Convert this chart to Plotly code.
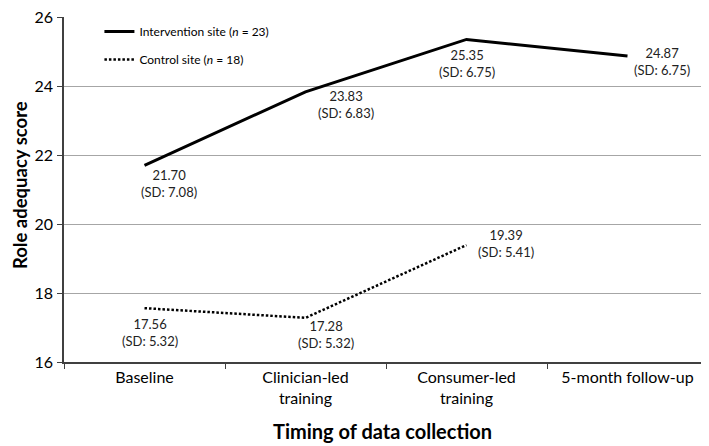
import plotly.graph_objects as go

categories = ["Baseline", "Clinician-led<br>training", "Consumer-led<br>training", "5-month follow-up"]
intervention_mean = [21.70, 23.83, 25.35, 24.87]
intervention_sd = [7.08, 6.83, 6.75, 6.75]
control_mean = [17.56, 17.28, 19.39]
control_sd = [5.32, 5.32, 5.41]
y_ticks = [16, 18, 20, 22, 24, 26]

# label offsets (pixels) relative to each point: (dx, dy)
int_offsets = [(24, -18), (40, -13), (0, -24), (34, -6)]
ctl_offsets = [(5, -24), (20, -17), (39, 2)]

FONT = "Lato"

fig = go.Figure()
fig.add_trace(go.Scatter(
    x=categories, y=intervention_mean, mode="lines",
    line=dict(color="black", width=3),
    name="Intervention site (<i>n</i> = 23)", legendgroup="a",
))
fig.add_trace(go.Scatter(
    x=categories[:len(control_mean)], y=control_mean, mode="lines",
    line=dict(color="black", width=2.5, dash="2.5px,2px"),
    name="Control site (<i>n</i> = 18)", legendgroup="b",
))

for cat, m, sd, (dx, dy) in zip(categories, intervention_mean, intervention_sd, int_offsets):
    fig.add_annotation(x=cat, y=m, xref="x", yref="y", text=f"{m:.2f}<br>(SD: {sd:.2f})",
                       showarrow=False, xshift=dx, yshift=dy,
                       font=dict(family=FONT, size=13, color="#222"), align="center")
for cat, m, sd, (dx, dy) in zip(categories, control_mean, control_sd, ctl_offsets):
    fig.add_annotation(x=cat, y=m, xref="x", yref="y", text=f"{m:.2f}<br>(SD: {sd:.2f})",
                       showarrow=False, xshift=dx, yshift=dy,
                       font=dict(family=FONT, size=13, color="#222"), align="center")

# axis titles
fig.add_annotation(x=0.4946, y=-0.2, xref="paper", yref="paper", xanchor="center", yanchor="middle",
                   text="<b>Timing of data collection</b>", showarrow=False,
                   font=dict(family=FONT, size=20, color="black"))
fig.add_annotation(x=-0.0683, y=0.513, xref="paper", yref="paper", xanchor="center", yanchor="middle",
                   text="<b>Role adequacy score</b>", showarrow=False, textangle=-90,
                   font=dict(family=FONT, size=18.5, color="black"))

fig.update_layout(
    width=701, height=438,
    margin=dict(l=56, r=1, t=9, b=84, autoexpand=False),
    paper_bgcolor="white", plot_bgcolor="white",
    font=dict(family=FONT, color="black"),
    showlegend=True,
    legend=dict(x=0.055, y=1.0, xanchor="left", yanchor="top",
                bgcolor="rgba(0,0,0,0)", font=dict(size=12, family=FONT),
                tracegroupgap=9, traceorder="grouped", itemwidth=30),
    xaxis=dict(
        type="category", range=[-0.5, 3.5], tickson="boundaries", automargin=False,
        ticks="outside", ticklen=5, tickcolor="#404040",
        showline=True, linecolor="#404040", linewidth=1.5,
        showgrid=False, tickfont=dict(size=16, family=FONT),
    ),
    yaxis=dict(
        range=[16, 26], tickvals=y_ticks, ticks="outside", ticklen=5, tickcolor="#404040",
        showline=True, linecolor="#404040", linewidth=1.5, automargin=False,
        showgrid=True, gridcolor="#a6a6a6", gridwidth=1, ticklabeloverflow="allow",
        tickfont=dict(size=16, family=FONT), zeroline=False, ticklabelstandoff=1,
    ),
)

fig.write_html("out.html")
